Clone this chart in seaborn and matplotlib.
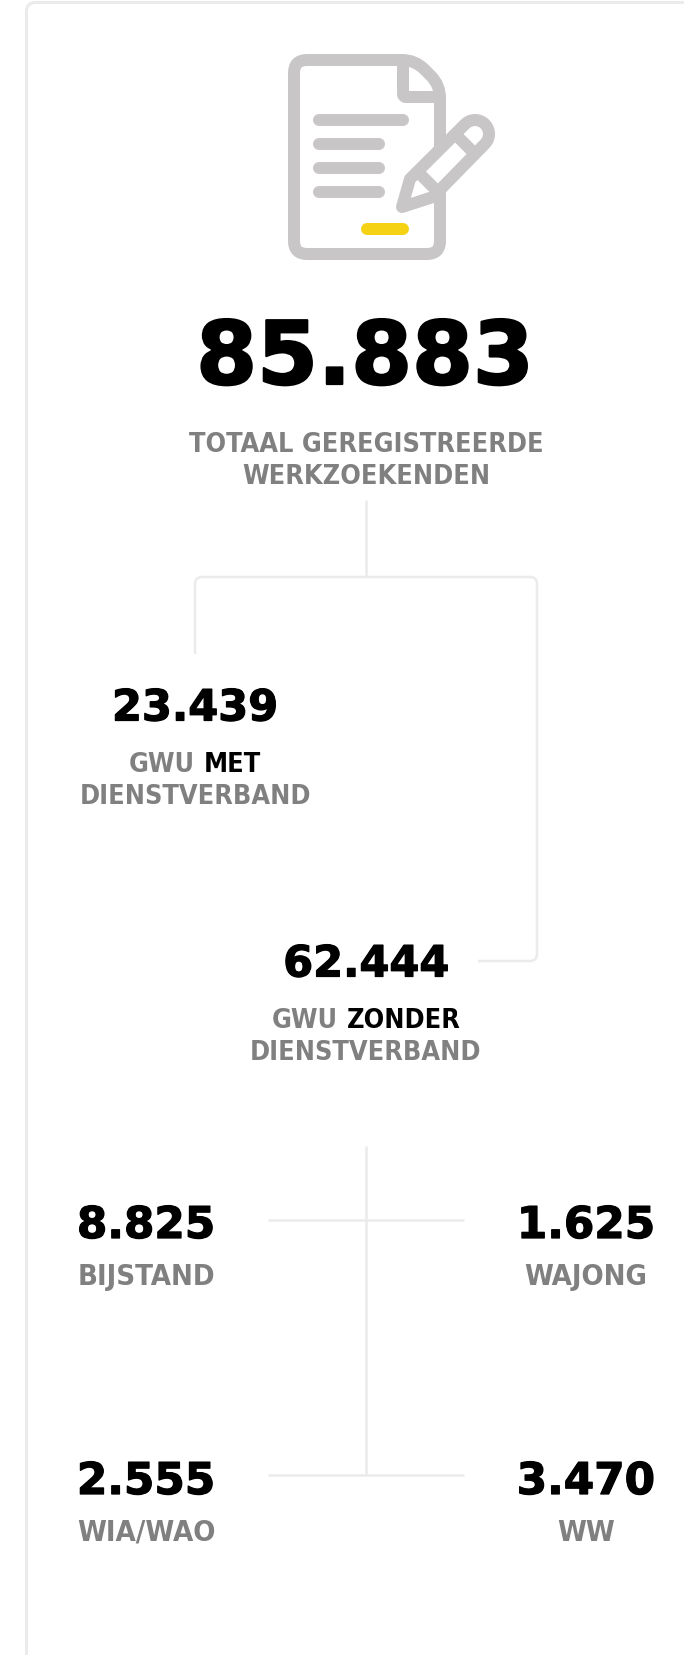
import numpy as np
import matplotlib
matplotlib.use("Agg")
import matplotlib.pyplot as plt
import matplotlib.patheffects as pe
import seaborn as sns
from matplotlib.path import Path
from matplotlib.patches import PathPatch

# numbers as printed (dutch thousands separator)
totaal = "85.883"
totaal_label = ["TOTAAL GEREGISTREERDE", "WERKZOEKENDEN"]
met = "23.439"
zonder = "62.444"
uitkering_namen = ["BIJSTAND", "WAJONG", "WIA/WAO", "WW"]
uitkering_waarden = ["8.825", "1.625", "2.555", "3.470"]

GREY = "#808080"
LINE = "#ebebeb"
ICON = "#c8c6c7"
YELLOW = "#f5d214"
LABEL_FONT = "DejaVu Sans"

sns.set_theme(style="white")
plt.rcParams["font.family"] = ["DejaVu Sans"]

fig = plt.figure(figsize=(6.84, 16.56), dpi=100)
ax = fig.add_axes([0, 0, 1, 1])
ax.set_xlim(0, 684)
ax.set_ylim(1656, 0)
ax.axis("off")


def px(w):
    return w * 72 / 100


def rounded(pts, r):
    # polyline with rounded corners
    verts = [pts[0]]
    codes = [Path.MOVETO]
    for i in range(1, len(pts) - 1):
        p = np.array(pts[i], float)
        a = np.array(pts[i - 1], float)
        b = np.array(pts[i + 1], float)
        p1 = p + (a - p) / np.linalg.norm(a - p) * r
        p2 = p + (b - p) / np.linalg.norm(b - p) * r
        verts += [p1, p, p2]
        codes += [Path.LINETO, Path.CURVE3, Path.CURVE3]
    verts.append(pts[-1])
    codes.append(Path.LINETO)
    return Path(verts, codes)


def stroke(pts, r=0, color=LINE, w=2.5, face="none", cap="butt", z=1):
    ax.add_patch(PathPatch(rounded(pts, r), fc=face, ec=color, lw=px(w),
                           capstyle=cap, joinstyle="round", zorder=z))


def number(x, y, s, size, extra=0.9):
    t = ax.text(x, y, s, ha="center", va="center_baseline", fontsize=size,
                fontweight="bold", color="black", zorder=5)
    # reference face is a bit heavier than DejaVu bold
    t.set_path_effects([pe.withStroke(linewidth=extra, foreground="black")])


def label(x, y, parts, size=19.4):
    # centred line made of several coloured pieces
    r = fig.canvas.get_renderer()
    items = []
    for s, c in parts:
        items.append(ax.text(0, y, s, ha="left", va="center_baseline", fontsize=size,
                             fontweight="bold", color=c, family=LABEL_FONT,
                             fontstretch="condensed", zorder=5))
    widths = [t.get_window_extent(r).width for t in items]
    gap = size * 0.45
    cur = x - (sum(widths) + gap * (len(items) - 1)) / 2
    for t, w in zip(items, widths):
        t.set_x(cur)
        cur += w + gap


# card
stroke([(700, 3.5), (26.5, 3.5), (26.5, 1670)], r=9, w=3)

# icon: sheet
stroke([(350, 61), (294, 61), (294, 255), (440, 255), (440, 86), (415, 61), (350, 61)],
       r=13, color=ICON, w=12)
stroke([(403, 61), (403, 98), (440, 98)], r=3, color=ICON, w=12)
for x_end, y in [(403, 121), (379, 145), (379, 169), (379, 193)]:
    stroke([(319, y), (x_end, y)], color=ICON, w=12, cap="round")
stroke([(367, 230), (403, 230)], color=YELLOW, w=12, cap="round")

# icon: pencil
ang = np.radians(np.linspace(-135, 45, 20))
cap_x = 475 + 14 * np.cos(ang)
cap_y = 135 + 14 * np.sin(ang)
pen = [(402, 208), (410, 180)] + list(zip(cap_x, cap_y)) + [(433, 198), (402, 208)]
ax.add_patch(PathPatch(Path(pen, closed=True), fc="white", ec=ICON, lw=px(12),
                       joinstyle="round", zorder=2))
ax.plot([420, 435], [175, 190], color=ICON, lw=px(12), solid_capstyle="butt", zorder=3)
ax.plot([459, 471], [139, 151], color=ICON, lw=px(12), solid_capstyle="butt", zorder=3)

# total
number(365, 352, totaal, 63, extra=1.6)
label(366, 442, [(totaal_label[0], GREY)])
label(366, 474, [(totaal_label[1], GREY)])

# connectors
stroke([(366, 501), (366, 578)])
stroke([(195, 655), (195, 578), (537, 578), (537, 962), (478, 962)], r=7)
stroke([(366, 1147), (366, 1476)])
stroke([(268, 1221), (464, 1221)])
stroke([(268, 1476), (464, 1476)])

# met / zonder dienstverband
number(195, 705, met, 31)
label(195, 762, [("GWU", GREY), ("MET", "black")])
label(195, 794, [("DIENSTVERBAND", GREY)])
number(366, 961, zonder, 31)
label(366, 1018, [("GWU", GREY), ("ZONDER", "black")])
label(366, 1050, [("DIENSTVERBAND", GREY)])

# uitkeringen
for (x, y), naam, waarde in zip([(146, 1222), (586, 1222), (146, 1478), (586, 1478)],
                                uitkering_namen, uitkering_waarden):
    number(x, y, waarde, 31.5)
    label(x, y + 52, [(naam, GREY)], size=21)

fig.savefig("out.png", dpi=100, facecolor="white")
